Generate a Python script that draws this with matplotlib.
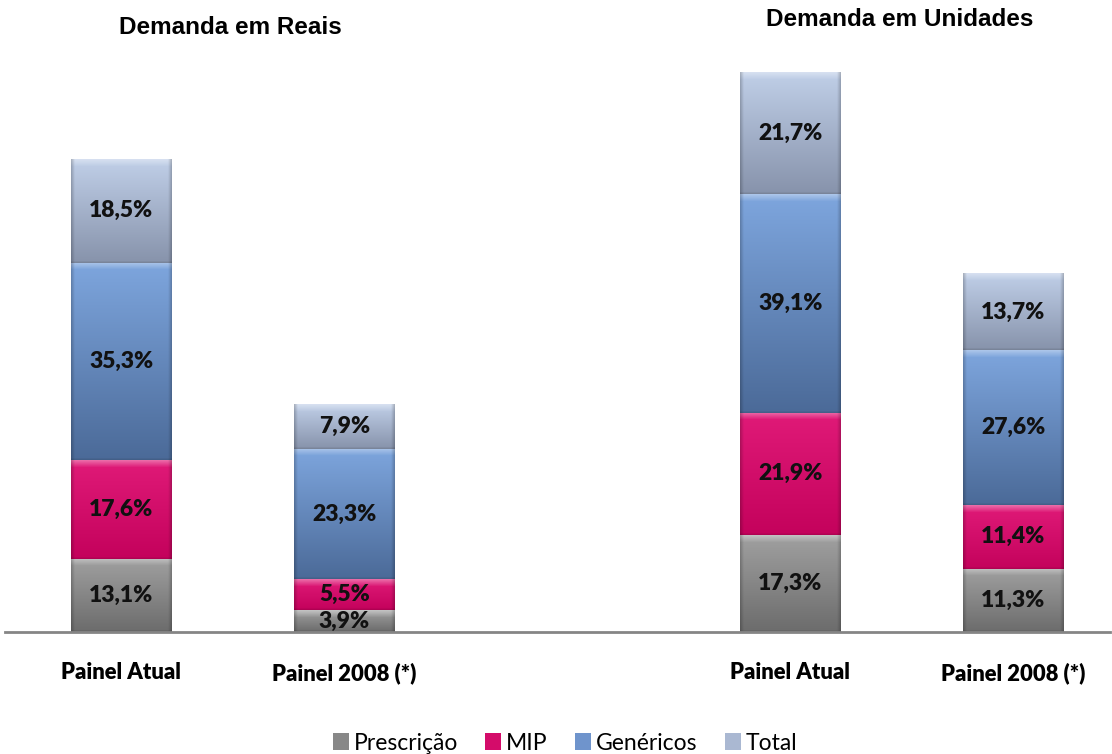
import numpy as np
import matplotlib.pyplot as plt
from matplotlib.colors import to_rgb
from matplotlib.patches import Patch

# dados (percentuais)
titulos = ['Demanda em Reais', 'Demanda em Unidades']
paineis = ['Painel Atual', 'Painel 2008 (*)', 'Painel Atual', 'Painel 2008 (*)']
series = ['Prescrição', 'MIP', 'Genéricos', 'Total']
prescricao = [13.1, 3.9, 17.3, 11.3]
mip = [17.6, 5.5, 21.9, 11.4]
genericos = [35.3, 23.3, 39.1, 27.6]
total = [18.5, 7.9, 21.7, 13.7]

posicoes = [0, 1, 3, 4]
# (cor de cima, cor de baixo) para o degrade de cada serie
cores = [('#a0a0a0', '#6c6c6c'),
         ('#e01a78', '#c4025c'),
         ('#7ea6de', '#4b6a98'),
         ('#c0cfe8', '#8793ab')]
cores_legenda = ['#888888', '#d40c6a', '#6f94cc', '#aab8d2']

W, H = 1112, 754
fig = plt.figure(figsize=(W / 100, H / 100), dpi=100)
ax = fig.add_axes([5 / W, 122 / H, 1105 / W, 632 / H])
ax.set_xlim(-0.522, 4.433)
ax.set_ylim(0, 112.9)


def degrade(patch, top, bottom):
    bb = patch.get_bbox()
    (px0, py0), (px1, py1) = ax.transData.transform([(bb.x0, bb.y0), (bb.x1, bb.y1)])
    n = max(int(round(py1 - py0)), 2)
    w = max(int(round(px1 - px0)), 2)
    t = np.linspace(0, 1, n)[:, None, None]
    img = np.array(to_rgb(top))[None, None, :] * (1 - t) + np.array(to_rgb(bottom))[None, None, :] * t
    img = np.repeat(img, w, axis=1)
    # brilho no topo (chanfro)
    rows = np.arange(n)
    bevel = np.clip(1 - rows / 7.0, 0, 1)[:, None, None] * 0.35
    img = img * (1 - bevel) + bevel
    # bordas laterais e base mais escuras
    s = np.abs(np.linspace(-1, 1, w))
    edge = 1 - 0.2 * np.clip((s - 0.93) / 0.07, 0, 1)
    img = img * edge[None, :, None]
    base = 1 - 0.15 * np.clip((rows - (n - 3)) / 3.0, 0, 1)
    img = img * base[:, None, None]
    ax.imshow(np.clip(img, 0, 1), extent=(bb.x0, bb.x1, bb.y0, bb.y1), aspect='auto',
              origin='upper', interpolation='bilinear', zorder=3)


fundo = np.zeros(len(posicoes))
for nome, vals, (c_top, c_bot) in zip(series, [prescricao, mip, genericos, total], cores):
    bars = ax.bar(posicoes, vals, width=0.45, bottom=fundo, color=c_bot, label=nome,
                  linewidth=0, zorder=2)
    for b, v, y0 in zip(bars, vals, fundo):
        degrade(b, c_top, c_bot)
        ax.text(b.get_x() + b.get_width() / 2, y0 + v / 2, f'{v:.1f}%'.replace('.', ','),
                ha='center', va='center', fontsize=16.5, fontweight='heavy',
                family='Lato', color='#111111', zorder=5)
    fundo = fundo + np.array(vals)

ax.set_xlim(-0.522, 4.433)
ax.set_ylim(0, 112.9)
for s in ['top', 'left', 'right']:
    ax.spines[s].set_visible(False)
ax.spines['bottom'].set_color('#858585')
ax.spines['bottom'].set_linewidth(2)
ax.spines['bottom'].set_zorder(6)
ax.set_xticks([])
ax.set_yticks([])

for x, p in zip(posicoes, paineis):
    ax.text(x, -7.3, p, ha='center', va='center', fontsize=15.8, fontweight='heavy',
            family='Lato', color='black')

fig.text(230 / W, 1 - 28 / H, titulos[0], ha='center', va='center', fontsize=17.5,
         fontweight='bold', family='Liberation Sans')
fig.text(900 / W, 1 - 20 / H, titulos[1], ha='center', va='center', fontsize=17.5,
         fontweight='bold', family='Liberation Sans')

handles = [Patch(facecolor=c, edgecolor='none') for c in cores_legenda]
fig.legend(handles, series, loc='center', bbox_to_anchor=(565 / W, 1 - 743 / H), ncol=4,
           frameon=False, handlelength=0.7, handleheight=0.7, handletextpad=0.2,
           columnspacing=1.2, prop={'family': 'Lato', 'size': 16.5})

fig.savefig('out.png', dpi=100)
